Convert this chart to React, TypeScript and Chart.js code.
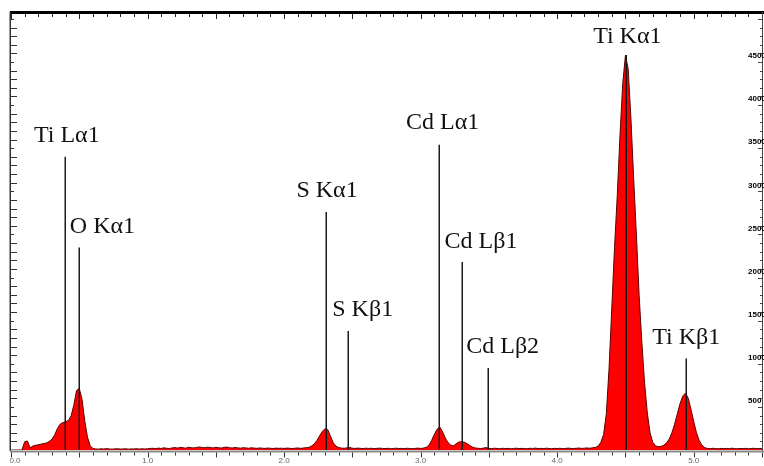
import React, { useEffect, useRef } from 'react';
import { Chart, registerables } from 'chart.js';

Chart.register(...registerables);

// ---- data ----
const BIN_KEV = 0.02; // channel width (keV)
const counts: number[] = [
  0, 0, 0, 0, 0,
  95, 105, 25, 45, 55, 60, 68, 75, 82, 100, 125, 175, 250, 300, 318, 328, 342, 395, 520, 690, 715, 590, 340, 150, 50, 18,
  12, 10, 14, 11, 16, 12, 10, 13, 15, 11, 12, 14, 10, 13, 12, 15, 11, 14, 12,
  14, 18, 20, 16, 22, 18, 25, 20, 17, 24, 28, 22, 30, 26, 21, 32, 27, 24, 30, 35,
  28, 26, 33, 29, 24, 31, 27, 22, 30, 34, 26, 23, 29, 25, 21, 27, 24, 20, 26, 22,
  19, 24, 21, 18, 23, 20, 17, 22, 19, 21,
  18, 22, 20, 17, 21, 24, 19, 23, 26,
  30, 45, 70, 110, 165, 215, 248, 235, 160, 85, 45, 28,
  22, 20, 25, 30, 21, 18, 22, 19, 17, 21, 18, 20, 16, 19, 22, 18, 17, 20, 15, 18, 21, 17, 19, 16, 20, 18, 15, 19, 22,
  18, 22, 30, 55, 110, 180, 240, 268, 215, 140, 88, 58, 48, 72, 92, 96, 90, 74, 52, 34, 24,
  20, 17, 22, 28, 19, 16, 21, 18, 15, 20, 17, 19, 14, 18, 21, 16, 19, 17, 15, 20,
  18, 22, 17, 19, 16, 21, 18, 15, 19, 17, 20, 16, 18, 22, 19, 17, 20, 23, 18, 21, 24, 20, 26, 30,
  45, 90, 180, 420, 950, 1650, 2350, 2950, 3650, 4250, 4580, 4420, 3850, 3150, 2500, 1800, 1250, 780, 430, 200,
  90, 50, 38, 42, 55, 80, 125, 200, 300, 420, 540, 625, 660, 600, 470, 330, 200, 110, 55, 28,
  18, 15, 20, 17, 14, 19, 16, 18, 15, 21, 17, 14, 18, 16, 19, 15, 17, 20, 16, 18, 15,
];

const lineNames = ['Ti Lα1', 'O Kα1', 'S Kα1', 'S Kβ1', 'Cd Lα1', 'Cd Lβ1', 'Cd Lβ2', 'Ti Kα1', 'Ti Kβ1'];
const lineEnergies = [0.395, 0.497, 2.31, 2.47, 3.135, 3.30, 3.495, 4.505, 4.945];
const lineHeights = [3400, 2350, 2760, 1380, 3540, 2180, 950, 4580, 1060];

const xTickValues = [0, 1, 2, 3, 4, 5];
const xTickLabels = ['0.0', '1.0', '2.0', '3.0', '4.0', '5.0'];
const yTickValues = [500, 1000, 1500, 2000, 2500, 3000, 3500, 4000, 4500];
const yTickLabels = ['500', '1000', '1500', '2000', '2500', '3000', '3500', '4000', '4500'];

const X_MAX = 5.5;
const Y_MAX = 5080;

// ---- label styling (offsets of text relative to its marker line) ----
const labelDx = [-31, -9, -30, -16, -33, -17, -22, -33, -34];
const labelGap = [15, 14, 15, 15, 16, 14, 15, 12, 15];

const decorPlugin = {
  id: 'edsDecor',
  afterDatasetsDraw(chart: any) {
    const { ctx, scales } = chart;
    const xs = scales.x;
    const ys = scales.y;
    const area = chart.chartArea;
    ctx.save();

    // marker lines
    ctx.strokeStyle = '#1a1a1a';
    ctx.lineWidth = 1.5;
    const y0 = ys.getPixelForValue(0);
    lineEnergies.forEach((e, i) => {
      const x = Math.round(xs.getPixelForValue(e)) + 0.25;
      const yt = ys.getPixelForValue(lineHeights[i]);
      ctx.beginPath();
      ctx.moveTo(x, y0);
      ctx.lineTo(x, yt);
      ctx.stroke();
    });

    // labels
    ctx.fillStyle = '#111';
    ctx.font = '24px "Liberation Serif", "Times New Roman", serif';
    ctx.textAlign = 'left';
    ctx.textBaseline = 'alphabetic';
    lineNames.forEach((name, i) => {
      const x = xs.getPixelForValue(lineEnergies[i]);
      const yt = ys.getPixelForValue(lineHeights[i]);
      ctx.fillText(name, x + labelDx[i], yt - labelGap[i]);
    });

    // top thick border
    ctx.fillStyle = '#000';
    ctx.fillRect(area.left - 1, area.top - 1, chart.width - area.left + 1, 3);

    // top ticks (every 0.1 keV)
    ctx.strokeStyle = '#222';
    ctx.lineWidth = 1;
    for (let k = 0; k <= Math.round(X_MAX * 10); k++) {
      const x = Math.round(xs.getPixelForValue(k / 10)) + 0.5;
      const len = k % 5 === 0 ? 5 : 3;
      ctx.beginPath();
      ctx.moveTo(x, area.top + 2);
      ctx.lineTo(x, area.top + 2 + len);
      ctx.stroke();
    }

    // left axis
    ctx.strokeStyle = '#333';
    ctx.lineWidth = 1.5;
    ctx.beginPath();
    ctx.moveTo(area.left - 0.75, area.top);
    ctx.lineTo(area.left - 0.75, area.bottom + 1);
    ctx.stroke();
    ctx.lineWidth = 1;
    for (let c = 100; c < Y_MAX; c += 100) {
      const y = Math.round(ys.getPixelForValue(c)) + 0.5;
      const len = c % 500 === 0 ? 3 : 6;
      ctx.beginPath();
      ctx.moveTo(area.left, y);
      ctx.lineTo(area.left + len, y);
      ctx.stroke();
    }

    // right axis
    ctx.strokeStyle = '#444';
    ctx.beginPath();
    ctx.moveTo(area.right + 0.5, area.top);
    ctx.lineTo(area.right + 0.5, area.bottom + 1);
    ctx.stroke();
    for (let c = 100; c < Y_MAX; c += 100) {
      const y = Math.round(ys.getPixelForValue(c)) + 0.5;
      const len = c % 500 === 0 ? 4 : 2;
      ctx.beginPath();
      ctx.moveTo(area.right, y);
      ctx.lineTo(area.right - len, y);
      ctx.stroke();
    }
    ctx.fillStyle = '#000';
    ctx.font = 'bold 8px "Liberation Sans", Arial, sans-serif';
    ctx.textAlign = 'left';
    ctx.textBaseline = 'middle';
    yTickValues.forEach((v, i) => {
      const y = ys.getPixelForValue(v);
      ctx.fillText(yTickLabels[i], area.right - 14, y - 6);
    });

    // bottom axis
    ctx.strokeStyle = '#8a8a8a';
    ctx.lineWidth = 2;
    ctx.beginPath();
    ctx.moveTo(area.left - 1, area.bottom + 1.5);
    ctx.lineTo(chart.width, area.bottom + 1.5);
    ctx.stroke();
    ctx.strokeStyle = '#333';
    ctx.lineWidth = 1;
    for (let k = 0; k <= Math.round(X_MAX * 10); k++) {
      const x = Math.round(xs.getPixelForValue(k / 10)) + 0.5;
      const len = k % 5 === 0 ? 5 : 3;
      ctx.beginPath();
      ctx.moveTo(x, area.bottom + 2.5);
      ctx.lineTo(x, area.bottom + 2.5 + len);
      ctx.stroke();
    }
    ctx.fillStyle = '#666';
    ctx.font = '8px "Liberation Sans", Arial, sans-serif';
    ctx.textAlign = 'center';
    ctx.textBaseline = 'middle';
    xTickValues.forEach((v, i) => {
      let x = xs.getPixelForValue(v);
      if (i === 0) x += 4;
      ctx.fillText(xTickLabels[i], x, area.bottom + 11);
    });

    ctx.restore();
  },
};

export default function App() {
  const canvasRef = useRef<HTMLCanvasElement | null>(null);

  useEffect(() => {
    const canvas = canvasRef.current;
    if (!canvas) return;
    const chart = new Chart(canvas, {
      type: 'line',
      data: {
        datasets: [
          {
            data: counts.map((c, i) => ({ x: i * BIN_KEV, y: c })),
            fill: 'origin',
            tension: 0,
            backgroundColor: '#ff0000',
            borderColor: '#5a0000',
            borderWidth: 1,
            pointRadius: 0,
          },
        ],
      },
      options: {
        animation: false,
        responsive: false,
        maintainAspectRatio: false,
        layout: { padding: { left: 11, right: 2, top: 12, bottom: 16 } },
        scales: {
          x: { type: 'linear', min: 0, max: X_MAX, display: false },
          y: { min: 0, max: Y_MAX, display: false },
        },
        plugins: {
          legend: { display: false },
          tooltip: { enabled: false },
        },
      },
      plugins: [decorPlugin],
    } as any);
    return () => chart.destroy();
  }, []);

  return (
    <div style={{ position: 'absolute', left: 0, top: 0, width: 764, height: 466, background: '#fff' }}>
      <canvas ref={canvasRef} width={764} height={466} style={{ display: 'block', width: 764, height: 466 }} />
    </div>
  );
}
